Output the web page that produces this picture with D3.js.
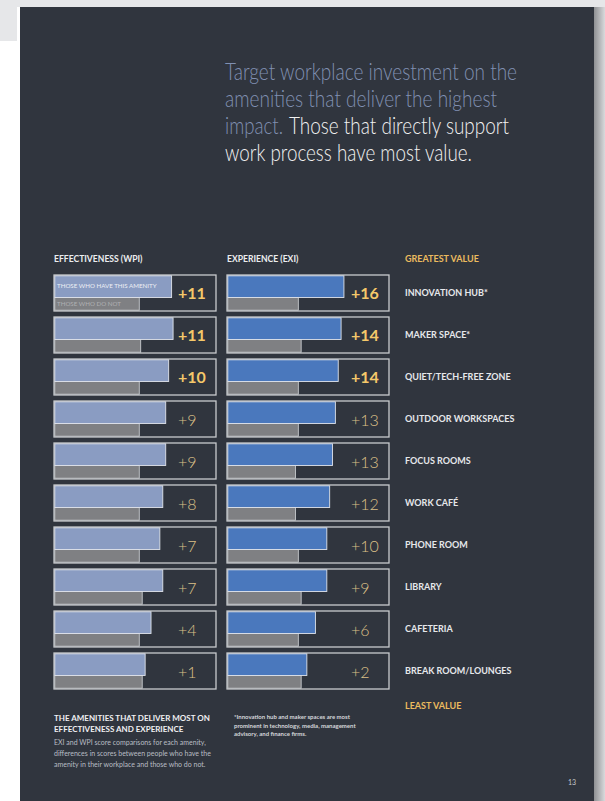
<!DOCTYPE html>
<html>
<head>
<meta charset="utf-8">
<title>Amenities - effectiveness and experience</title>
<script src="https://d3js.org/d3.v7.min.js"></script>
<style>
  body { margin: 0; background: #fff; }
  svg { display: block; }
</style>
</head>
<body>
<script>
// amenities, best to least value
var amenities = ["INNOVATION HUB*", "MAKER SPACE*", "QUIET/TECH-FREE ZONE", "OUTDOOR WORKSPACES",
    "FOCUS ROOMS", "WORK CAFÉ", "PHONE ROOM", "LIBRARY", "CAFETERIA", "BREAK ROOM/LOUNGES"];

// WPI scores (effectiveness)
var wpiHave = [70, 70.5, 69, 68, 68, 67, 66, 67, 63, 61];
var wpiNot  = [59, 59.5, 59, 59, 59, 59, 59, 60, 59, 60];

// EXI scores (experience)
var exiHave = [71, 70, 69, 68, 67, 66, 65, 65, 61, 58];
var exiNot  = [55, 56, 55, 55, 54, 54, 55, 56, 55, 56];

// title pieces: [text, colour, x, width]
var titleLines = [
    [["Target workplace investment on the", "#8090b2", 225, 292]],
    [["amenities that deliver the highest", "#8090b2", 225, 272]],
    [["impact.", "#8090b2", 225, 58], ["Those that directly support", "#f2f2f2", 289, 220]],
    [["work process have most value.", "#f2f2f2", 225, 247]]
];
var noteLines = ["EXI and WPI score comparisons for each amenity,",
    "differences in scores between people who have the",
    "amenity in their workplace and those who do not."];
var footLines = ["*Innovation hub and maker spaces are most",
    "prominent in technology, media, management",
    "advisory, and finance firms."];

var W = 605, H = 801;
var bg = "#30353e";
var font = "Lato, 'Open Sans', sans-serif";

var svg = d3.select("body").append("svg")
    .attr("width", W)
    .attr("height", H);

var defs = svg.append("defs");
var grad = defs.append("linearGradient").attr("id", "shadow");
grad.append("stop").attr("offset", "0%").attr("stop-color", "#8e9093");
grad.append("stop").attr("offset", "100%").attr("stop-color", "#d9dadc");

// paper background / page
svg.append("rect").attr("x", 0).attr("y", 0).attr("width", W).attr("height", 7).attr("fill", "#e6e7e9");
svg.append("rect").attr("x", 0).attr("y", 0).attr("width", 17).attr("height", 41).attr("fill", "#e6e7e9");
svg.append("rect").attr("x", 594).attr("y", 7).attr("width", 11).attr("height", H - 7).attr("fill", "url(#shadow)");
svg.append("rect").attr("x", 20).attr("y", 7).attr("width", 574).attr("height", H - 7).attr("fill", bg);

// title
var title = svg.append("g").attr("font-family", font).attr("font-weight", 300).attr("font-size", 22.5);
titleLines.forEach(function(line, i) {
    line.forEach(function(part) {
        title.append("text")
            .attr("x", part[2])
            .attr("y", 80 + i * 27)
            .attr("fill", part[1])
            .attr("textLength", part[3])
            .attr("lengthAdjust", "spacingAndGlyphs")
            .text(part[0]);
    });
});

var y = d3.scaleBand()
    .domain(amenities)
    .range([275, 689])
    .paddingInner(6 / 42)
    .paddingOuter(0);

var panels = [
    {name: "EFFECTIVENESS (WPI)", have: wpiHave, not: wpiNot, color: "#8a9cc2",
     x: d3.scaleLinear().domain([30, 85.1]).range([54, 216])},
    {name: "EXPERIENCE (EXI)", have: exiHave, not: exiNot, color: "#4a78bd",
     x: d3.scaleLinear().domain([30, 86.8]).range([227, 389])}
];

var haveH = 22.5;

panels.forEach(function(p) {
    var x = p.x;
    var x0 = x.range()[0], x1 = x.range()[1];
    var g = svg.append("g");

    g.append("text")
        .attr("x", x0)
        .attr("y", 261.5)
        .attr("fill", "#eceef0")
        .attr("font-family", font)
        .attr("font-weight", 700)
        .attr("font-size", 8.6)
        .text(p.name);

    var rows = g.selectAll("g.row")
        .data(amenities)
        .join("g")
        .attr("class", "row")
        .attr("transform", function(d) { return "translate(0," + y(d) + ")"; });

    rows.append("rect")
        .attr("x", x0)
        .attr("y", 0)
        .attr("width", x1 - x0)
        .attr("height", y.bandwidth())
        .attr("fill", "none")
        .attr("stroke", "#c9cbce")
        .attr("stroke-width", 1.3);

    rows.append("rect")
        .attr("x", x0 + 0.8)
        .attr("y", haveH)
        .attr("width", function(d, i) { return x(p.not[i]) - x0 - 0.8; })
        .attr("height", y.bandwidth() - haveH - 0.8)
        .attr("fill", "#7f8083")
        .attr("stroke", "#d4d7db")
        .attr("stroke-width", 0.8);

    rows.append("rect")
        .attr("x", x0 + 0.8)
        .attr("y", 0.8)
        .attr("width", function(d, i) { return x(p.have[i]) - x0 - 0.8; })
        .attr("height", haveH - 0.8)
        .attr("fill", p.color)
        .attr("stroke", "#dfe3ea")
        .attr("stroke-width", 0.9);

    rows.append("text")
        .attr("x", x0 + 124)
        .attr("y", function(d, i) { return i < 3 ? 23.5 : 24.5; })
        .attr("font-family", font)
        .attr("font-weight", function(d, i) { return i < 3 ? 700 : 300; })
        .attr("font-size", 16)
        .attr("fill", function(d, i) { return i < 3 ? "#f5c86a" : "#dcc088"; })
        .text(function(d, i) { return "+" + Math.round(p.have[i] - p.not[i]); });
});

// legend inside first WPI bar
var legend = svg.append("g").attr("font-family", font).attr("font-size", 6.2);
legend.append("text").attr("x", 57).attr("y", 288.3).attr("fill", "#eef0f5").text("THOSE WHO HAVE THIS AMENITY");
legend.append("text").attr("x", 57).attr("y", 305.6).attr("fill", "#b0b0b3").text("THOSE WHO DO NOT");

// amenity names
var names = svg.append("g").attr("font-family", font).attr("font-weight", 700).attr("font-size", 9);
names.append("text").attr("x", 405).attr("y", 261.5).attr("fill", "#ebbb5f").text("GREATEST VALUE");
names.selectAll("text.name")
    .data(amenities)
    .join("text")
    .attr("class", "name")
    .attr("x", 405)
    .attr("y", function(d) { return y(d) + y.bandwidth() / 2 + 3.2; })
    .attr("fill", "#e6e8eb")
    .text(function(d) { return d; });
names.append("text").attr("x", 405).attr("y", 709).attr("fill", "#ebbb5f").text("LEAST VALUE");

// caption
var cap = svg.append("g").attr("font-family", font);
cap.append("text").attr("x", 54).attr("y", 721).attr("fill", "#f0f0f2")
    .attr("font-weight", 700).attr("font-size", 8).text("THE AMENITIES THAT DELIVER MOST ON");
cap.append("text").attr("x", 54).attr("y", 732).attr("fill", "#f0f0f2")
    .attr("font-weight", 700).attr("font-size", 8).text("EFFECTIVENESS AND EXPERIENCE");
noteLines.forEach(function(s, i) {
    cap.append("text").attr("x", 54).attr("y", 744.5 + i * 11).attr("fill", "#b9bdc4")
        .attr("font-size", 7).text(s);
});
footLines.forEach(function(s, i) {
    cap.append("text").attr("x", 234).attr("y", 719 + i * 8.6).attr("fill", "#d6d8dc")
        .attr("font-weight", 700).attr("font-size", 6).text(s);
});
cap.append("text").attr("x", 568).attr("y", 785).attr("fill", "#c4c6ca")
    .attr("font-size", 7).text("13");
</script>
</body>
</html>
